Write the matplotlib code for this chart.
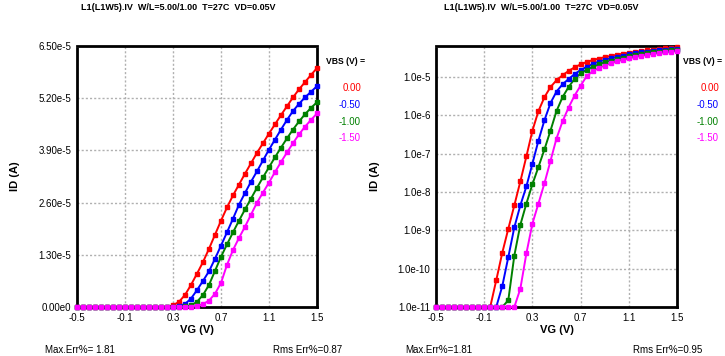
import numpy as np
import matplotlib
matplotlib.use("Agg")
import matplotlib.pyplot as plt

plt.rcParams['font.family'] = ['Liberation Sans Narrow', 'Liberation Sans', 'DejaVu Sans']

VG = np.round(np.arange(-0.5, 1.5001, 0.05), 2)

ID_0p00 = [1e-13]*9 + [8e-12, 5e-11, 2.6e-10, 1.1e-9, 4.5e-9, 1.9e-8, 8.5e-8, 4e-7, 1.3e-6,
           3e-6, 5.5e-6, 8.3e-6, 1.12e-5, 1.45e-5, 1.8e-5, 2.15e-5, 2.48e-5, 2.78e-5, 3.05e-5,
           3.32e-5, 3.58e-5, 3.84e-5, 4.08e-5, 4.32e-5, 4.55e-5, 4.78e-5, 5.0e-5, 5.22e-5,
           5.42e-5, 5.6e-5, 5.78e-5, 5.95e-5]
ID_m0p50 = [1e-13]*11 + [3.5e-11, 2e-10, 1.2e-9, 4.5e-9, 1.4e-8, 5.5e-8, 2.2e-7, 7.5e-7,
            2.1e-6, 4.2e-6, 6.5e-6, 8.9e-6, 1.2e-5, 1.53e-5, 1.86e-5, 2.2e-5, 2.55e-5, 2.84e-5,
            3.12e-5, 3.38e-5, 3.65e-5, 3.92e-5, 4.17e-5, 4.42e-5, 4.66e-5, 4.88e-5, 5.06e-5,
            5.22e-5, 5.36e-5, 5.5e-5]
ID_m1p00 = [1e-13]*12 + [1.5e-11, 2.2e-10, 1.4e-9, 5e-9, 1.6e-8, 4.5e-8, 1.3e-7, 4e-7,
            1.3e-6, 3e-6, 5.5e-6, 9e-6, 1.25e-5, 1.56e-5, 1.86e-5, 2.15e-5, 2.43e-5, 2.7e-5,
            2.97e-5, 3.23e-5, 3.48e-5, 3.73e-5, 3.97e-5, 4.2e-5, 4.42e-5, 4.62e-5, 4.8e-5,
            4.96e-5, 5.1e-5]
ID_m1p50 = [1e-13]*14 + [3e-11, 2.5e-10, 1.5e-9, 5e-9, 1.7e-8, 6.5e-8, 2.5e-7, 7e-7,
            1.6e-6, 3.3e-6, 6e-6, 1.05e-5, 1.42e-5, 1.72e-5, 2.0e-5, 2.3e-5, 2.6e-5, 2.85e-5,
            3.1e-5, 3.36e-5, 3.61e-5, 3.85e-5, 4.08e-5, 4.3e-5, 4.49e-5, 4.66e-5, 4.82e-5]

series = [ID_0p00, ID_m0p50, ID_m1p00, ID_m1p50]
vbs_labels = ["0.00", "-0.50", "-1.00", "-1.50"]
colors = ["#ff0000", "#0000ff", "#008000", "#ff00ff"]

x_ticks = [-0.5, -0.1, 0.3, 0.7, 1.1, 1.5]
x_tick_labels = ["-0.5", "-0.1", "0.3", "0.7", "1.1", "1.5"]
lin_ticks = [0.0, 1.3e-5, 2.6e-5, 3.9e-5, 5.2e-5, 6.5e-5]
lin_tick_labels = ["0.00e0", "1.30e-5", "2.60e-5", "3.90e-5", "5.20e-5", "6.50e-5"]
log_ticks = [1e-11, 1e-10, 1e-9, 1e-8, 1e-7, 1e-6, 1e-5]
log_tick_labels = ["1.0e-11", "1.0e-10", "1.0e-9", "1.0e-8", "1.0e-7", "1.0e-6", "1.0e-5"]

title = "L1(L1W5).IV  W/L=5.00/1.00  T=27C  VD=0.05V"
max_err = ["Max.Err%= 1.81", "Max.Err%=1.81"]
rms_err = ["Rms Err%=0.87", "Rms Err%=0.95"]

W, H = 725, 356
fig = plt.figure(figsize=(W/100, H/100), dpi=100)

def fx(px):
    return px / W

def fy(py):
    return 1 - py / H

axL = fig.add_axes([fx(77), fy(307), fx(317) - fx(77), fy(46) - fy(307)])
axR = fig.add_axes([fx(436), fy(307), fx(677) - fx(436), fy(46) - fy(307)])

for ax, logy in [(axL, False), (axR, True)]:
    for s, c in zip(series, colors):
        y = np.array(s)
        if logy:
            y = np.clip(y, 1e-11, None)
        ax.plot(VG, y, color=c, lw=1.4, zorder=3, clip_on=False)
        ax.plot(VG, y, ls='none', marker='s', ms=2.5, mfc=c, mec=c, zorder=4, clip_on=False)
    ax.set_xlim(-0.5, 1.5)
    ax.set_xticks(x_ticks)
    ax.set_xticklabels(x_tick_labels)
    if logy:
        ax.set_yscale('log')
        ax.set_ylim(1e-11, 6.5e-5)
        ax.set_yticks(log_ticks)
        ax.set_yticklabels(log_tick_labels)
        ax.yaxis.set_minor_locator(matplotlib.ticker.NullLocator())
    else:
        ax.set_ylim(0, 6.5e-5)
        ax.set_yticks(lin_ticks)
        ax.set_yticklabels(lin_tick_labels)
    ax.grid(True, color='#b0b0b0', ls=(0, (1.5, 1.5)), lw=1.0, zorder=0)
    ax.tick_params(length=0, labelsize=7, pad=4)
    for sp in ax.spines.values():
        sp.set_linestyle((0, (1, 1)))
        sp.set_linewidth(2.0)
        sp.set_color('black')
    ax.set_xlabel("VG (V)", fontsize=8, fontweight='bold', labelpad=2)
    ax.set_ylabel("ID (A)", fontsize=8, fontweight='bold')

axL.yaxis.set_label_coords((20 - 77) / (317 - 77), 0.5)
axR.yaxis.set_label_coords((380 - 436) / (677 - 436), 0.5)

# titles
fig.text(fx(178), fy(8), title, ha='center', va='center', fontsize=6.5, fontweight='bold')
fig.text(fx(541), fy(8), title, ha='center', va='center', fontsize=6.5, fontweight='bold')

# legends
for x_head, x_vals in [(326, 361), (683, 719)]:
    fig.text(fx(x_head), fy(61), "VBS (V) =", ha='left', va='center', fontsize=6.2, fontweight='bold')
    for lbl, c, yy in zip(vbs_labels, colors, [88, 105, 122, 138]):
        fig.text(fx(x_vals), fy(yy), lbl, ha='right', va='center', fontsize=7, color=c)

# error texts
fig.text(fx(45), fy(350), max_err[0], ha='left', va='center', fontsize=7)
fig.text(fx(342), fy(350), rms_err[0], ha='right', va='center', fontsize=7)
fig.text(fx(405), fy(350), max_err[1], ha='left', va='center', fontsize=7)
fig.text(fx(702), fy(350), rms_err[1], ha='right', va='center', fontsize=7)

fig.savefig("out.png", dpi=100)
